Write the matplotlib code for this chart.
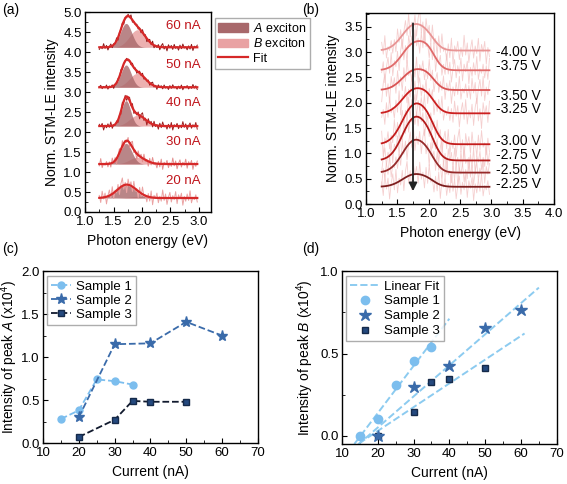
import numpy as np
import matplotlib.pyplot as plt
from matplotlib.patches import Patch
from matplotlib.lines import Line2D
from matplotlib.ticker import MultipleLocator

plt.rcParams['font.family'] = ['Liberation Sans', 'DejaVu Sans']
plt.rcParams['mathtext.fontset'] = 'custom'
plt.rcParams['mathtext.rm'] = 'Liberation Sans'
plt.rcParams['mathtext.it'] = 'Liberation Sans:italic'
plt.rcParams['font.size'] = 10
plt.rcParams['xtick.labelsize'] = 9.5
plt.rcParams['ytick.labelsize'] = 9.5
plt.rcParams['xtick.direction'] = 'in'
plt.rcParams['ytick.direction'] = 'in'
plt.rcParams['xtick.major.size'] = 3.5
plt.rcParams['ytick.major.size'] = 3.5
plt.rcParams['xtick.minor.size'] = 2
plt.rcParams['ytick.minor.size'] = 2
plt.rcParams['xtick.major.pad'] = 3
plt.rcParams['ytick.major.pad'] = 2.5
plt.rcParams['axes.linewidth'] = 1.0

# ---- (a) spectra vs tunnelling current (fit parameters) ----
currents_a = ['20 nA', '30 nA', '40 nA', '50 nA', '60 nA']
base_a = [0.35, 1.20, 2.15, 3.12, 4.12]
ampA_a = [0.32, 0.52, 0.64, 0.56, 0.60]
ampB_a = [0.04, 0.17, 0.27, 0.35, 0.44]
widA_a = [0.16, 0.10, 0.08, 0.09, 0.10]
posA_a = 1.72
posB_a = 1.92
widB_a = 0.14
noise_amp_a = [0.20, 0.15, 0.11, 0.07, 0.09]
label_y_a = [0.78, 1.75, 2.72, 3.68, 4.65]
raw_col_a = ['#EBA3A3', '#E58F8F', '#9E1F1F', '#8E1B1B', '#8A1818']

# hand-typed residual pattern used as the noisy raw data texture
noise = [0.3, -0.6, 0.8, -0.2, 0.5, -0.9, 0.1, 0.7, -0.4, 0.9, -0.7, 0.2, -0.3,
         0.6, -0.8, 0.4, 1.0, -0.5, 0.3, -1.0, 0.7, -0.1, 0.5, -0.6, 0.8, -0.3,
         0.2, -0.8, 0.6, -0.4, 0.9, -0.2, 0.1, -0.7, 0.4, -0.5, 0.8, -0.9, 0.3,
         -0.1, 0.6, -0.6, 0.2, -0.4, 1.0, -0.3, 0.5, -0.8, 0.1, 0.7, -0.5, 0.3,
         -0.2, 0.8, -0.7, 0.4, -0.1, 0.6, -0.9, 0.2, -0.4, 0.5, -0.3, 0.9, -0.6,
         0.1, -0.2, 0.4, -0.5]

# ---- (b) spectra vs bias voltage ----
volts_b = ['-2.25 V', '-2.50 V', '-2.75 V', '-3.00 V', '-3.25 V', '-3.50 V', '-3.75 V', '-4.00 V']
base_b = [0.34, 0.62, 0.86, 1.18, 1.79, 2.25, 2.64, 3.03]
ampA_b = [0.24, 0.62, 0.82, 0.76, 0.46, 0.38, 0.52, 0.50]
ampB_b = [0.06, 0.15, 0.22, 0.22, 0.16, 0.14, 0.22, 0.12]
label_y_b = [0.40, 0.67, 0.97, 1.24, 1.88, 2.13, 2.73, 3.00]
col_b = ['#7E1E1E', '#962A2A', '#B31B1B', '#C41C1C', '#CC1F1F', '#D95454', '#E06A6A', '#E89494']
posA_b, widA_b = 1.77, 0.19
posB_b, widB_b = 2.00, 0.12

# ---- (c) intensity of peak A ----
cur1 = [15, 20, 25, 30, 35]
pkA1 = [0.28, 0.38, 0.74, 0.72, 0.68]
cur2 = [20, 30, 40, 50, 60]
pkA2 = [0.30, 1.15, 1.16, 1.41, 1.25]
cur3 = [20, 30, 35, 40, 50]
pkA3 = [0.07, 0.27, 0.49, 0.48, 0.48]

# ---- (d) intensity of peak B ----
curB1 = [15, 20, 25, 30, 35]
pkB1 = [0.00, 0.10, 0.31, 0.455, 0.54]
curB2 = [20, 30, 40, 50, 60]
pkB2 = [0.00, 0.295, 0.425, 0.655, 0.765]
curB3 = [20, 30, 35, 40, 50]
pkB3 = [0.00, 0.145, 0.325, 0.345, 0.415]
fit_end = [40, 65, 61]

c1 = '#7CBEEE'
c2 = '#3A6BAA'
c3 = '#24497E'
fitc = '#8CCBF0'


def gauss(x, a, mu, s):
    return a * np.exp(-(x - mu) ** 2 / (2 * s ** 2))


fig = plt.figure(figsize=(5.67, 4.84), dpi=100)

# ================= (a) =================
ax = fig.add_axes([0.150, 0.562, 0.222, 0.413])
x = np.linspace(1.25, 2.97, len(noise))
for i in range(len(currents_a)):
    b = base_a[i]
    gA = gauss(x, ampA_a[i], posA_a, widA_a[i])
    gB = gauss(x, ampB_a[i], posB_a, widB_a)
    ax.fill_between(x, b, b + gB, color='#E9A2A3', alpha=0.85, lw=0)
    ax.fill_between(x, b, b + gA, color='#A8686B', alpha=0.8, lw=0)
    raw = b + gA + gB + noise_amp_a[i] * np.roll(noise, 7 * i)
    ax.plot(x, raw, color=raw_col_a[i], lw=0.7)
    ax.plot(x, b + gA + gB, color='#D62828', lw=1.6)
    ax.text(2.72, label_y_a[i], currents_a[i], color='#C0141B', ha='center', va='center', fontsize=9.5)
ax.set_xlim(1.0, 3.21)
ax.set_ylim(0, 5.0)
ax.xaxis.set_major_locator(MultipleLocator(0.5))
ax.xaxis.set_minor_locator(MultipleLocator(0.25))
ax.yaxis.set_major_locator(MultipleLocator(0.5))
ax.yaxis.set_minor_locator(MultipleLocator(0.25))
ax.set_xlabel('Photon energy (eV)')
ax.set_ylabel('Norm. STM-LE intensity', labelpad=3)
hdl = [Patch(facecolor='#A8686B', edgecolor='#A8686B', label=r'$\mathit{A}$ exciton'),
       Patch(facecolor='#E9A2A3', edgecolor='#E9A2A3', label=r'$\mathit{B}$ exciton'),
       Line2D([], [], color='#D62828', lw=1.6, label='Fit')]
ax.legend(handles=hdl, loc='upper left', bbox_to_anchor=(1.03, 0.97), fontsize=9,
          fancybox=False, edgecolor='#999999', borderpad=0.3, handlelength=2.4,
          handletextpad=0.4, labelspacing=0.2, borderaxespad=0)

# ================= (b) =================
ax = fig.add_axes([0.6455, 0.5785, 0.3316, 0.3946])
for i in range(len(volts_b)):
    b = base_b[i]
    fitb = b + gauss(x, ampA_b[i], posA_b, widA_b) + gauss(x, ampB_b[i], posB_b, widB_b)
    ax.plot(x, fitb + 0.3 * np.roll(noise, 11 * i), color='#F2BFBF', lw=0.6, alpha=0.75)
for i in range(len(volts_b)):
    b = base_b[i]
    fitb = b + gauss(x, ampA_b[i], posA_b, widA_b) + gauss(x, ampB_b[i], posB_b, widB_b)
    ax.plot(x, fitb, color=col_b[i], lw=1.3)
    ax.text(3.08, label_y_b[i], volts_b[i], ha='left', va='center', fontsize=10)
ax.annotate('', xy=(1.75, 0.2), xytext=(1.75, 3.62),
            arrowprops=dict(arrowstyle='-|>', color='#222222', lw=1.3, mutation_scale=12))
ax.set_xlim(1.0, 4.0)
ax.set_ylim(0, 3.77)
ax.xaxis.set_major_locator(MultipleLocator(0.5))
ax.xaxis.set_minor_locator(MultipleLocator(0.25))
ax.yaxis.set_major_locator(MultipleLocator(0.5))
ax.yaxis.set_minor_locator(MultipleLocator(0.25))
ax.set_xlabel('Photon energy (eV)')
ax.set_ylabel('Norm. STM-LE intensity', labelpad=3)

# ================= (c) =================
ax = fig.add_axes([0.0758, 0.0847, 0.379, 0.355])
ax.plot(cur1, pkA1, '--o', color=c1, ms=5, lw=1.3, label='Sample 1')
ax.plot(cur2, pkA2, '--*', color=c2, ms=8, lw=1.3, label='Sample 2')
ax.plot(cur3, pkA3, '--s', color='#111A2E', mfc=c3, mec='#152A4A', ms=4, lw=1.3, label='Sample 3')
ax.set_xlim(10, 70)
ax.set_ylim(0, 2.0)
ax.xaxis.set_major_locator(MultipleLocator(10))
ax.xaxis.set_minor_locator(MultipleLocator(5))
ax.yaxis.set_major_locator(MultipleLocator(0.5))
ax.yaxis.set_minor_locator(MultipleLocator(0.25))
ax.set_xlabel('Current (nA)')
ax.set_ylabel(r'Intensity of peak $\mathit{A}$ (x10$^4$)', fontsize=9.8)
ax.yaxis.set_label_coords(-0.105, 0.5)
ax.legend(loc='upper left', bbox_to_anchor=(0.02, 0.97), fontsize=9.5, fancybox=False,
          edgecolor='#999999', borderpad=0.3, handlelength=1.5, handletextpad=0.4,
          labelspacing=0.15, borderaxespad=0)

# ================= (d) =================
ax = fig.add_axes([0.603, 0.0826, 0.379, 0.357])
xs = [curB1, curB2, curB3]
ys = [pkB1, pkB2, pkB3]
for k in range(3):
    p = np.polyfit(xs[k], ys[k], 1)
    xf = np.linspace(10, fit_end[k], 50)
    ax.plot(xf, np.polyval(p, xf), '--', color=fitc, lw=1.4, label='Linear Fit' if k == 0 else None)
ax.plot(curB3, pkB3, 's', mfc=c3, mec='#152A4A', ms=4.5, label='Sample 3', zorder=3)
ax.plot(curB2, pkB2, '*', color=c2, ms=9, label='Sample 2', zorder=4)
ax.plot(curB1, pkB1, 'o', color=c1, ms=6, label='Sample 1', zorder=5)
ax.set_xlim(10, 70)
ax.set_ylim(-0.05, 1.0)
ax.xaxis.set_major_locator(MultipleLocator(10))
ax.xaxis.set_minor_locator(MultipleLocator(5))
ax.yaxis.set_major_locator(MultipleLocator(0.5))
ax.yaxis.set_minor_locator(MultipleLocator(0.25))
ax.set_xlabel('Current (nA)')
ax.set_ylabel(r'Intensity of peak $\mathit{B}$ (x10$^4$)', labelpad=3)
h, l = ax.get_legend_handles_labels()
order = [0, 3, 2, 1]
ax.legend([h[j] for j in order], [l[j] for j in order], loc='upper left',
          bbox_to_anchor=(0.02, 0.97), fontsize=9.5, fancybox=False, edgecolor='#999999',
          borderpad=0.3, handlelength=2.2, handletextpad=0.4, labelspacing=0.2,
          borderaxespad=0)

fig.text(0.004, 0.993, '(a)', va='top', fontsize=10)
fig.text(0.532, 0.993, '(b)', va='top', fontsize=10)
fig.text(0.004, 0.500, '(c)', va='top', fontsize=10)
fig.text(0.532, 0.500, '(d)', va='top', fontsize=10)

fig.savefig('out.png', dpi=100)
